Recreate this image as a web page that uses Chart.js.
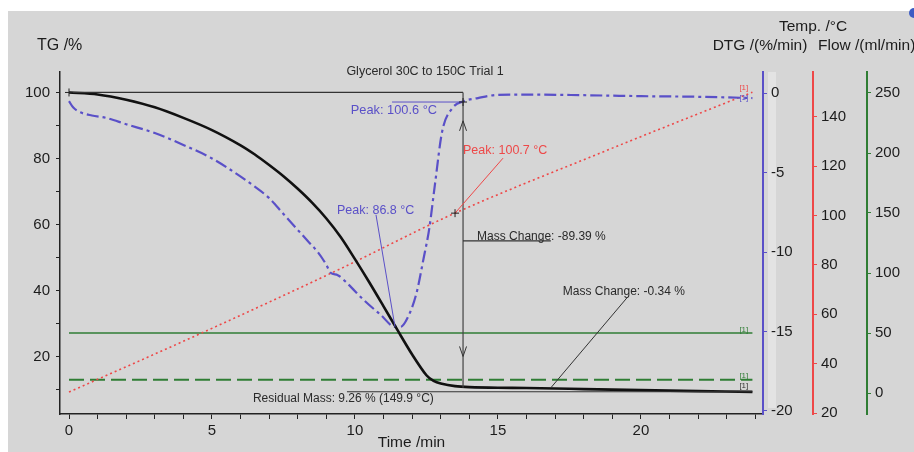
<!DOCTYPE html>
<html><head><meta charset="utf-8">
<script src="https://cdn.jsdelivr.net/npm/chart.js@4.4.1/dist/chart.umd.min.js"></script>
<style>html,body{margin:0;padding:0;background:#fff;}canvas{display:block;}</style>
</head><body>
<canvas id="c" width="914" height="452"></canvas>
<script>
// ---- data ----
const tgTime = [0, 1, 2, 3, 4, 5, 6, 6.5, 7, 7.5, 8, 8.5, 9, 9.5, 10, 10.5, 11, 11.5, 12, 12.5, 12.75, 13, 13.5, 14, 15, 16, 17, 18, 20, 22, 23.9];
const tgMass = [100, 99.4, 97.8, 95.5, 92.3, 88.6, 84.0, 81.2, 78.0, 74.6, 70.8, 66.6, 61.8, 56.2, 49.5, 42.5, 35.2, 27.8, 20.6, 14.3, 12.6, 11.8, 11.0, 10.7, 10.5, 10.45, 10.3, 10.1, 9.8, 9.5, 9.26];

const dtgTime = [0, 0.15, 0.4, 0.8, 1.3, 2, 3, 4, 5, 5.8, 6.4, 7, 7.5, 8, 8.35, 8.7, 9.0, 9.15, 9.4, 9.75, 10.3, 10.9, 11.4, 11.6, 11.85, 12.15, 12.4, 12.6, 12.8, 13.05, 13.4, 13.8, 14.3, 15, 16, 18, 20, 22, 23.9];
const dtgRate = [-0.5, -0.9, -1.2, -1.4, -1.55, -1.95, -2.5, -3.25, -4.1, -5.0, -5.75, -6.6, -7.6, -8.6, -9.3, -10.0, -10.8, -11.3, -11.45, -12.0, -13.0, -13.95, -14.7, -14.7, -14.1, -12.6, -10.4, -8.5, -5.7, -2.4, -0.95, -0.5, -0.3, -0.1, -0.08, -0.12, -0.18, -0.22, -0.3];

const tempTime = [0, 4.75, 9.5, 13.4, 18.5, 23.9];
const tempC = [28.5, 53, 78.5, 100.5, 125, 150];

const flowTime = [0, 23.9];
const flowSolid = [50, 50];
const flowDashed = [11, 11];

const timeTicks = [0,1,2,3,4,5,6,7,8,9,10,11,12,13,14,15,16,17,18,19,20,21,22,23,24];
const timeLabels = [0, 5, 10, 15, 20];
const tgTicks = [10, 20, 30, 40, 50, 60, 70, 80, 90, 100];
const tgLabels = [20, 40, 60, 80, 100];
const dtgTicks = [-20, -15, -10, -5, 0];
const tempTicks = [20, 40, 60, 80, 100, 120, 140];
const flowTicks = [0, 50, 100, 150, 200, 250];

const chartTitle = 'Glycerol 30C to 150C Trial 1';
const titleTG = 'TG /%', titleTemp = 'Temp. /°C', titleDTG = 'DTG /(%/min)', titleFlow = 'Flow /(ml/min)', titleTime = 'Time /min';
const peakDTG1 = {t: 13.78, v: -0.55, text: 'Peak: 100.6 °C'};
const peakTemp = {t: 13.5, v: 101, text: 'Peak: 100.7 °C'};
const peakDTG2 = {t: 11.4, v: -14.7, text: 'Peak: 86.8 °C'};
const massChange1 = {t: 13.78, from: 100, to: 10.5, upTip: 91.4, downTip: 20, text: 'Mass Change: -89.39 %', endT: 16.85, lineV: 55};
const massChange2 = {t: 16.85, v: 10.5, text: 'Mass Change: -0.34 %'};
const residual = {t0: 9.72, t1: 23.9, v: 9.3, text: 'Residual Mass: 9.26 % (149.9 °C)'};

// ---- colours ----
const C_BLUE = '#5a50c8', C_RED = '#ee4848', C_GREEN = '#2f7d34', C_TXT = '#1c1c1c';
const FONT = '"Liberation Sans", Arial, sans-serif';

const pts = (xs, ys) => xs.map((x, i) => ({x, y: ys[i]}));
const setTicks = vals => s => { s.ticks = vals.map(v => ({value: v})); };
const fitV = w => s => { s.width = w; s.paddingTop = 0; s.paddingBottom = 0; };

const tickFont = {family: FONT, size: 15};

const bgPlugin = {
  id: 'bg',
  beforeDraw(chart) {
    const c = chart.ctx, ca = chart.chartArea;
    c.save();
    c.fillStyle = '#ffffff'; c.fillRect(0, 0, chart.width, chart.height);
    c.fillStyle = '#d6d6d6'; c.fillRect(8, 11, chart.width - 8, chart.height - 11);
    c.fillStyle = '#e3e3e3'; c.fillRect(ca.right + 5, ca.top, 8, ca.bottom - ca.top - 6);
    c.restore();
  }
};

const annoPlugin = {
  id: 'anno',
  afterDatasetsDraw(chart) {
    const c = chart.ctx, ca = chart.chartArea, s = chart.scales;
    const X = v => s.x.getPixelForValue(v);
    const YT = v => s.yTG.getPixelForValue(v);
    const YD = v => s.yDTG.getPixelForValue(v);
    const YC = v => s.yTemp.getPixelForValue(v);
    const YF = v => s.yFlow.getPixelForValue(v);
    const line = (x1, y1, x2, y2, col, w) => { c.strokeStyle = col; c.lineWidth = w || 1; c.beginPath(); c.moveTo(x1, y1); c.lineTo(x2, y2); c.stroke(); };
    const plus = (x, y) => { line(x - 4, y, x + 4, y, '#222', 1); line(x, y - 4, x, y + 4, '#222', 1); };
    const arrow = (x, y, dir) => { line(x, y, x - 3.5, y - dir * 10, '#333', 1); line(x, y, x + 3.5, y - dir * 10, '#333', 1); };
    const text = (t, x, y, col, align, size) => { c.fillStyle = col; c.textAlign = align || 'left'; c.textBaseline = 'alphabetic'; c.font = (size || 12) + 'px ' + FONT; c.fillText(t, x, y); };
    c.save();
    // chart title
    text(chartTitle, ca.left + 365, 75, '#2a2a2a', 'center', 12.5);
    // top reference line (TG 100) and start marker
    line(X(0), YT(100), X(massChange1.t), YT(100), '#333', 1.3);
    plus(X(0), YT(100));
    // mass change step line + arrows
    const xm = X(massChange1.t);
    line(xm, YT(massChange1.from), xm, YT(massChange1.to), '#444', 1.2);
    arrow(xm, YT(massChange1.upTip), -1);
    arrow(xm, YT(massChange1.downTip), 1);
    line(xm, YT(massChange1.lineV), X(massChange1.endT), YT(massChange1.lineV), '#333', 1.3);
    text(massChange1.text, xm + 14, YT(massChange1.lineV) - 1, '#2a2a2a', 'left', 12);
    // peak on DTG (100.6)
    const p1x = X(peakDTG1.t), p1y = YD(peakDTG1.v);
    line(p1x, p1y, p1x - 71, p1y, C_BLUE, 1);
    text(peakDTG1.text, p1x - 26, p1y + 12, C_BLUE, 'right', 12.8);
    plus(p1x, p1y);
    // peak on temperature (100.7)
    const p2x = X(peakTemp.t), p2y = YC(peakTemp.v);
    line(p2x, p2y, p2x + 48, p2y - 55, C_RED, 1);
    text(peakTemp.text, p2x + 8, p2y - 59, C_RED, 'left', 12.5);
    plus(p2x, p2y);
    // peak on DTG minimum (86.8)
    const p3x = X(peakDTG2.t), p3y = YD(peakDTG2.v);
    line(p3x, p3y, p3x - 19, p3y - 112, C_BLUE, 1);
    text(peakDTG2.text, p3x - 58, p3y - 113, C_BLUE, 'left', 12.5);
    // mass change -0.34
    const mx = X(massChange2.t), my = YT(massChange2.v);
    line(mx, my, mx + 77, my - 91, '#333', 1);
    text(massChange2.text, mx + 12, my - 93, '#2a2a2a', 'left', 12);
    // residual mass
    line(X(residual.t0), YT(residual.v), X(residual.t1), YT(residual.v), '#333', 1.2);
    text(residual.text, X(residual.t0) - 94, YT(residual.v) + 10, '#2a2a2a', 'left', 12);
    // end-of-curve markers
    const mxEnd = X(23.6);
    text('[1]', mxEnd, YF(flowSolid[1]) - 1, C_GREEN, 'center', 8);
    text('[1]', mxEnd, YF(flowDashed[1]) - 2, C_GREEN, 'center', 8);
    text('[1]', mxEnd, YT(tgMass[tgMass.length - 1]) - 4, '#333', 'center', 8);
    text('[1]', mxEnd, YC(tempC[tempC.length - 1]) - 2, C_RED, 'center', 8);
    text('[1]', mxEnd, YD(dtgRate[dtgRate.length - 1]) + 2, C_BLUE, 'center', 8);
    c.restore();
  },
  afterDraw(chart) {
    const c = chart.ctx;
    c.save();
    c.fillStyle = C_TXT; c.textBaseline = 'alphabetic';
    c.font = '16px ' + FONT; c.textAlign = 'left';
    c.fillText(titleTG, 37, 50);
    c.font = '15.5px ' + FONT; c.textAlign = 'center';
    c.fillText(titleTemp, 813, 31);
    c.fillText(titleDTG, 760, 50);
    c.textAlign = 'left';
    c.fillText(titleFlow, 818, 50);
    // small blue icon at top-right corner
    c.fillStyle = '#3c5cc4'; c.beginPath(); c.arc(914, 13, 5, 0, Math.PI * 2); c.fill();
    c.restore();
  }
};

const axisGrid = col => ({drawOnChartArea: false, drawTicks: true, tickLength: 4, color: col, lineWidth: 1});

new Chart(document.getElementById('c'), {
  type: 'line',
  data: {
    datasets: [
      {label: 'TG', data: pts(tgTime, tgMass), yAxisID: 'yTG', borderColor: '#111', borderWidth: 2.6, pointRadius: 0, tension: 0.3, fill: false},
      {label: 'DTG', data: pts(dtgTime, dtgRate), yAxisID: 'yDTG', borderColor: C_BLUE, borderWidth: 2.2, borderDash: [12, 4, 3, 4], pointRadius: 0, cubicInterpolationMode: 'monotone', fill: false},
      {label: 'Temp', data: pts(tempTime, tempC), yAxisID: 'yTemp', borderColor: C_RED, borderWidth: 1.6, borderDash: [2, 3], pointRadius: 0, cubicInterpolationMode: 'monotone', fill: false},
      {label: 'Flow 1', data: pts(flowTime, flowSolid), yAxisID: 'yFlow', borderColor: C_GREEN, borderWidth: 1.7, pointRadius: 0, fill: false},
      {label: 'Flow 2', data: pts(flowTime, flowDashed), yAxisID: 'yFlow', borderColor: C_GREEN, borderWidth: 2, borderDash: [15, 6], pointRadius: 0, fill: false}
    ]
  },
  options: {
    responsive: false, animation: false, devicePixelRatio: 1,
    layout: {padding: {top: 72, left: 0, right: 0, bottom: 0}},
    plugins: {legend: {display: false}, tooltip: {enabled: false}, title: {display: false}},
    scales: {
      x: {
        type: 'linear', position: 'bottom', min: -0.315, max: 24.27,
        afterBuildTicks: setTicks(timeTicks),
        afterFit: s => { s.height = 38; s.paddingLeft = 0; s.paddingRight = 0; },
        grid: {drawOnChartArea: false, drawTicks: true, tickLength: 5, color: '#222', lineWidth: 1},
        border: {display: true, color: '#222', width: 1.5},
        ticks: {autoSkip: false, maxRotation: 0, padding: 3, font: tickFont, color: C_TXT,
          callback: v => timeLabels.includes(v) ? String(v) : ''},
        title: {display: true, text: titleTime, font: {family: FONT, size: 15.5}, color: C_TXT, padding: {top: 0, bottom: 0}}
      },
      yTG: {
        type: 'linear', position: 'left', min: 2.56, max: 106.2,
        afterBuildTicks: setTicks(tgTicks), afterFit: fitV(60),
        grid: axisGrid('#222'), border: {display: true, color: '#222', width: 1.5},
        ticks: {autoSkip: false, padding: 6, font: tickFont, color: C_TXT,
          callback: v => tgLabels.includes(v) ? String(v) : ''}
      },
      yDTG: {
        type: 'linear', position: 'right', weight: 1, min: -20.19, max: 1.34,
        afterBuildTicks: setTicks(dtgTicks), afterFit: fitV(50),
        grid: axisGrid(C_BLUE), border: {display: true, color: C_BLUE, width: 2},
        ticks: {autoSkip: false, padding: 4, font: tickFont, color: C_TXT}
      },
      yTemp: {
        type: 'linear', position: 'right', weight: 2, min: 19.6, max: 158.2,
        afterBuildTicks: setTicks(tempTicks), afterFit: fitV(54),
        grid: axisGrid(C_RED), border: {display: true, color: C_RED, width: 2},
        ticks: {autoSkip: false, padding: 4, font: tickFont, color: C_TXT}
      },
      yFlow: {
        type: 'linear', position: 'right', weight: 3, min: -17.5, max: 267.5,
        afterBuildTicks: setTicks(flowTicks), afterFit: fitV(47),
        grid: axisGrid(C_GREEN), border: {display: true, color: C_GREEN, width: 2},
        ticks: {autoSkip: false, padding: 4, font: tickFont, color: C_TXT}
      }
    }
  },
  plugins: [bgPlugin, annoPlugin]
});
</script>
</body></html>
